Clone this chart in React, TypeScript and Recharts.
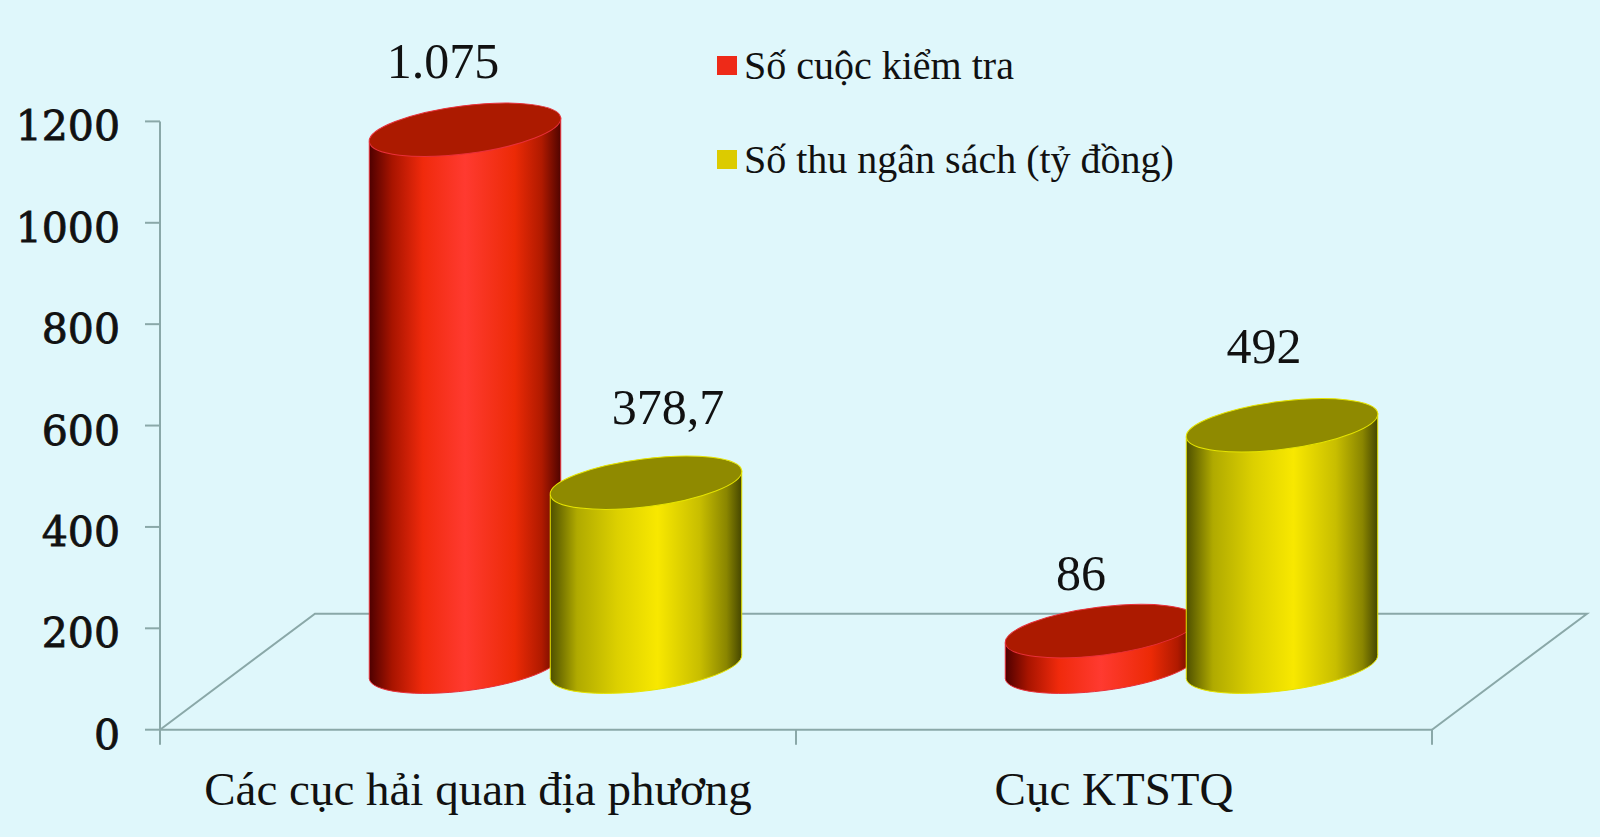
import React from "react";
import { BarChart, Bar, XAxis, YAxis, Legend, LabelList, Customized } from "recharts";

const categories = ["Các cục hải quan địa phương", "Cục KTSTQ"];
const inspections = [1075, 86];
const revenue = [378.7, 492];
const inspectionLabels = ["1.075", "86"];
const revenueLabels = ["378,7", "492"];
const yTicks = [0, 200, 400, 600, 800, 1000, 1200];
const seriesNames = ["Số cuộc kiểm tra", "Số thu ngân sách (tỷ đồng)"];

const rows = categories.map((name, i) => ({ name, inspections: inspections[i], revenue: revenue[i] }));

const W = 1600, H = 837;
const LEFT = 160, RIGHT = 1432, TOP = 121.4, BOTTOM = 729.7;
const DEPTH_X = 155, DEPTH_Y = 116;
const SHIFT_X = DEPTH_X / 2, SHIFT_Y = DEPTH_Y / 2;
const AXIS = "#8aa8a8";
const SERIF = "'Liberation Serif', serif";

const TILT = 7.2;
const cosT = Math.cos((TILT * Math.PI) / 180), sinT = Math.sin((TILT * Math.PI) / 180);

function Cylinder(props: any) {
  const { x, y, width, height, grad, cap, edge } = props;
  if (width == null) return null;
  const cx = x + width / 2 + SHIFT_X;
  const rx = width / 2 + 6;
  const ry = 24;
  const base = y + height - SHIFT_Y - 5;
  const top = y - SHIFT_Y + 3;
  const dx = rx * cosT, dy = rx * sinT;
  const body = `M${cx - dx},${top + dy} L${cx - dx},${base + dy} A${rx},${ry} ${-TILT} 0 0 ${cx + dx},${base - dy} L${cx + dx},${top - dy} Z`;
  return (
    <g>
      <path d={body} fill={`url(#${grad})`} stroke={edge} strokeWidth={1} />
      <ellipse cx={cx} cy={top} rx={rx} ry={ry} transform={`rotate(${-TILT} ${cx} ${top})`} fill={cap} stroke={edge} strokeWidth={1} />
    </g>
  );
}

function Floor() {
  const mid = (LEFT + RIGHT) / 2;
  const line = { stroke: AXIS, strokeWidth: 2, fill: "none" };
  return (
    <g>
      <defs>
        <linearGradient id="redBody" x1="0" y1="0" x2="1" y2="0">
          <stop offset="0" stopColor="#4e0000" />
          <stop offset="0.12" stopColor="#a81400" />
          <stop offset="0.28" stopColor="#f02a0c" />
          <stop offset="0.5" stopColor="#ff3a30" />
          <stop offset="0.76" stopColor="#ec2a06" />
          <stop offset="0.9" stopColor="#b01a00" />
          <stop offset="1" stopColor="#500400" />
        </linearGradient>
        <linearGradient id="yellowBody" x1="0" y1="0" x2="1" y2="0">
          <stop offset="0" stopColor="#4e5000" />
          <stop offset="0.14" stopColor="#b0aa00" />
          <stop offset="0.35" stopColor="#dcd000" />
          <stop offset="0.56" stopColor="#f8e800" />
          <stop offset="0.78" stopColor="#c8be00" />
          <stop offset="0.92" stopColor="#8a8600" />
          <stop offset="1" stopColor="#454600" />
        </linearGradient>
      </defs>
      <path d={`M${LEFT},${BOTTOM} L${LEFT + DEPTH_X},${BOTTOM - DEPTH_Y} L${RIGHT + DEPTH_X},${BOTTOM - DEPTH_Y} L${RIGHT},${BOTTOM}`} {...line} />
      <path d={`M${LEFT},${BOTTOM} V${BOTTOM + 15} M${mid},${BOTTOM} V${BOTTOM + 15} M${RIGHT},${BOTTOM} V${BOTTOM + 15}`} {...line} />
    </g>
  );
}

const labelOffsets: Record<string, [number, number]> = {
  "1.075": [-22, -52],
  "86": [-20, -41],
  "378,7": [22, -59],
  "492": [-18, -62],
};

function ValueLabel(texts: string[]) {
  return (props: any) => {
    const { x, y, width, index } = props;
    const text = texts[index];
    const [dx, dy] = labelOffsets[text];
    return (
      <text x={x + width / 2 + SHIFT_X + dx} y={y - SHIFT_Y + 3 + dy} textAnchor="middle" fontFamily={SERIF} fontSize={50} fill="#111">
        {text}
      </text>
    );
  };
}

function YTick(props: any) {
  const { x, y, payload } = props;
  return (
    <text x={x} y={y + 19} textAnchor="end" fontFamily="'DejaVu Serif', serif" fontSize={41} fill="#111" stroke="#111" strokeWidth={0.8}>
      {payload.value}
    </text>
  );
}

function XTick(props: any) {
  const { x, y, payload } = props;
  return (
    <text x={x} y={y + 67} textAnchor="middle" fontFamily={SERIF} fontSize={47} fill="#111">
      {payload.value}
    </text>
  );
}

function LegendBox(props: any) {
  return (
    <div>
      {(props.payload || []).map((item: any, i: number) => (
        <div key={i} style={{ position: "absolute", left: 0, top: i * 94, whiteSpace: "nowrap", height: 40 }}>
          <span style={{ position: "absolute", left: 0, top: 0, width: 20, height: 19, background: item.color }} />
          <span style={{ position: "absolute", left: 27, top: -12, fontFamily: SERIF, fontSize: 40, lineHeight: "44px", color: "#111" }}>
            {item.value}
          </span>
        </div>
      ))}
    </div>
  );
}

export default function App() {
  return (
    <div style={{ position: "absolute", left: 0, top: 0, width: W, height: H, background: "#dff7fb", overflow: "hidden" }}>
      <BarChart
        width={W}
        height={H}
        data={rows}
        barSize={181}
        barGap={0}
        margin={{ top: TOP, right: W - RIGHT, bottom: 0, left: 0 }}
      >
        <Customized component={Floor} />
        <XAxis dataKey="name" height={H - BOTTOM} axisLine={{ stroke: AXIS, strokeWidth: 2 }} tickLine={false} tick={<XTick />} interval={0} />
        <YAxis
          width={LEFT}
          domain={[0, 1200]}
          ticks={yTicks}
          axisLine={{ stroke: AXIS, strokeWidth: 2 }}
          tickLine={{ stroke: AXIS, strokeWidth: 2 }}
          tickSize={15}
          tickMargin={25}
          tick={<YTick />}
        />
        <Legend content={<LegendBox />} layout="horizontal" verticalAlign="middle" align="center" wrapperStyle={{ left: 717, top: 56, width: 500, height: 150 }} />
        <Bar
          dataKey="inspections"
          name={seriesNames[0]}
          fill="#ee2a18"
          isAnimationActive={false}
          shape={(p: any) => <Cylinder {...p} grad="redBody" cap="#ac1a00" edge="#e8303a" />}
        >
          <LabelList content={ValueLabel(inspectionLabels)} />
        </Bar>
        <Bar
          dataKey="revenue"
          name={seriesNames[1]}
          fill="#dccb00"
          isAnimationActive={false}
          shape={(p: any) => <Cylinder {...p} grad="yellowBody" cap="#8f8a00" edge="#e6e400" />}
        >
          <LabelList content={ValueLabel(revenueLabels)} />
        </Bar>
      </BarChart>
    </div>
  );
}
